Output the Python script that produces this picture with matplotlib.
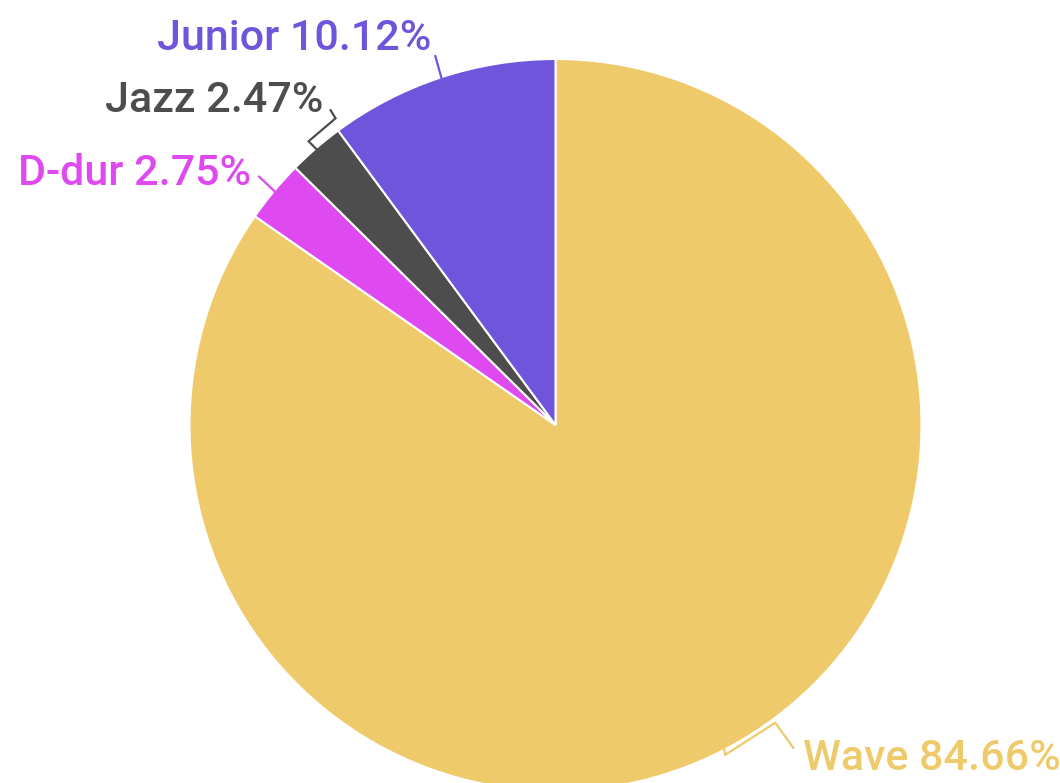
import numpy as np
import matplotlib
matplotlib.use("Agg")
import matplotlib.pyplot as plt

# slices, clockwise from 12 o'clock
labels = ["Wave", "D-dur", "Jazz", "Junior"]
shares = [84.66, 2.75, 2.47, 10.12]
colors = ["#EECA6A", "#DE4AF0", "#4D4D4D", "#6E55DB"]

W, H = 1060, 783
CX, CY, R = 555.5, 425, 366  # pie centre / radius in image pixels

fig = plt.figure(figsize=(W / 100, H / 100), dpi=100)
ax = fig.add_axes([0, 0, 1, 1])

# y axis is inverted (image pixels), so start at -90 and go "counterclock"
# in data space, which shows as clockwise from 12 o'clock on screen
wedges, _ = ax.pie(shares, colors=colors, startangle=-90, counterclock=True,
                   center=(CX, CY), radius=R, frame=True,
                   wedgeprops=dict(edgecolor="white", linewidth=1.5))
ax.set_xlim(0, W)
ax.set_ylim(H, 0)
ax.set_aspect("equal")
ax.axis("off")

# label layout: text anchor (x, baseline y) and leader polyline offsets
label_layout = {
    "Wave":   dict(xy=(803, 770), ha="left",  path=[(2, 9), (52, -23), (70, 2)]),
    "D-dur":  dict(xy=(251, 185), ha="right", path=[(-18, -17)]),
    "Jazz":   dict(xy=(323, 112), ha="right", path=[(-10, -10), (17, -33), (12, -41)]),
    "Junior": dict(xy=(431, 50),  ha="right", path=[(-7, -25)]),
}

cum = np.cumsum([0] + shares[:-1])
for lab, s, c0, col in zip(labels, shares, cum, colors):
    mid_cw = (c0 + s / 2) / 100 * 360
    ang = np.deg2rad(90 - mid_cw)
    sx = CX + (R - 4) * np.cos(ang)
    sy = CY - (R - 4) * np.sin(ang)
    lay = label_layout[lab]
    xs = [sx] + [sx + dx for dx, dy in lay["path"]]
    ys = [sy] + [sy + dy for dx, dy in lay["path"]]
    ax.plot(xs, ys, color=col, lw=1.6, solid_joinstyle="miter")
    ax.text(lay["xy"][0], lay["xy"][1], f"{lab} {s:.2f}%", color=col,
            ha=lay["ha"], va="baseline", fontsize=31, fontweight="medium",
            family=["Roboto", "DejaVu Sans"])

fig.savefig("out.png", dpi=100)
